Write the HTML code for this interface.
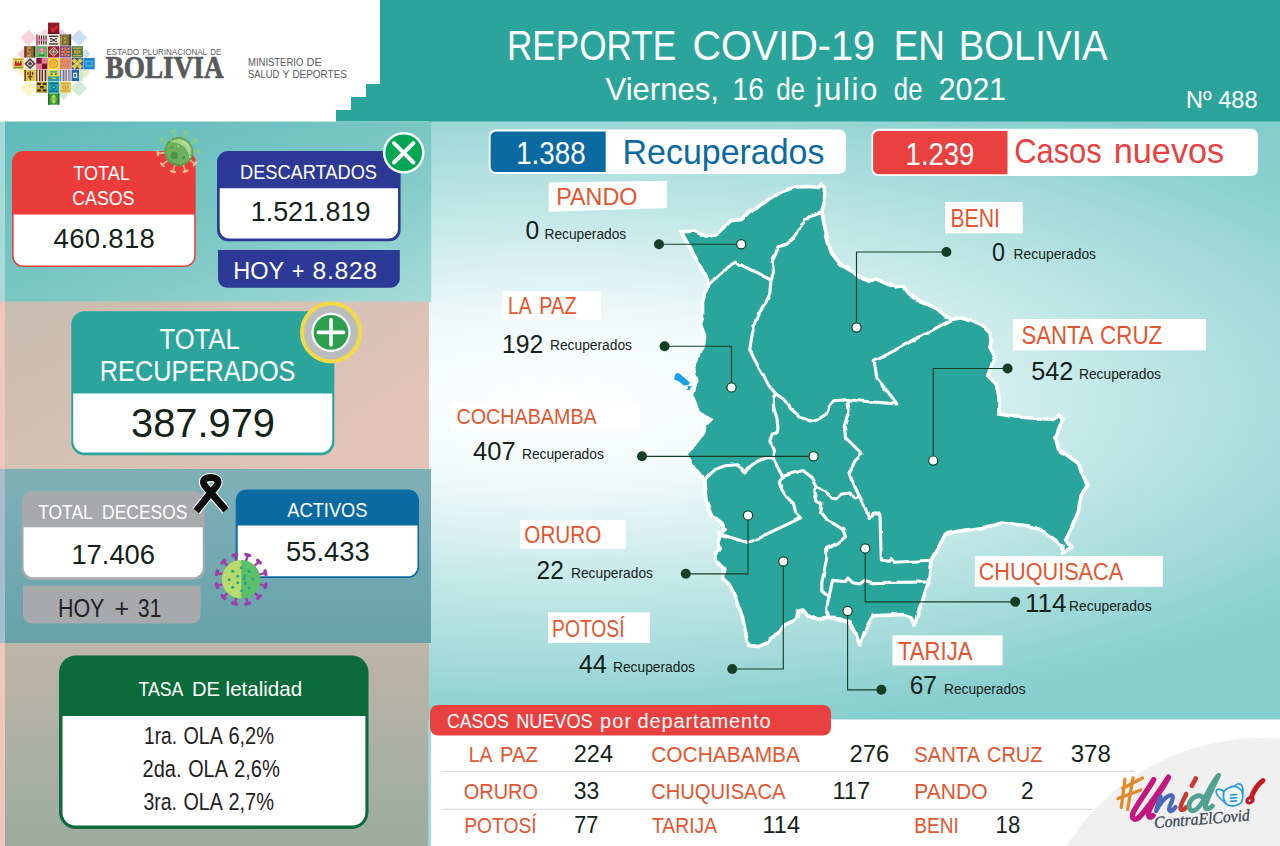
<!DOCTYPE html>
<html lang="es"><head><meta charset="utf-8"><title>Reporte COVID-19 en Bolivia</title>
<style>
html,body{margin:0;padding:0;background:#ffffff;}
body{width:1280px;height:846px;overflow:hidden;font-family:"Liberation Sans",sans-serif;}
svg{display:block;}
text{white-space:pre;}
</style></head><body>
<svg width="1280" height="846" viewBox="0 0 1280 846">
<defs>
<radialGradient id="bgR" gradientUnits="userSpaceOnUse" cx="560" cy="400" r="100" gradientTransform="translate(560 400) scale(10 3.45) translate(-560 -400)">
<stop offset="0" stop-color="#ffffff"/><stop offset="0.25" stop-color="#f0f9f9"/><stop offset="0.55" stop-color="#c2e7e7"/><stop offset="0.75" stop-color="#a6dbdb"/><stop offset="0.9" stop-color="#8fd1d1"/><stop offset="1" stop-color="#86cdce"/>
</radialGradient>
<linearGradient id="p1" x1="0" y1="0" x2="1" y2="1"><stop offset="0" stop-color="#5ebbb9"/><stop offset="0.6" stop-color="#7fc9c6"/><stop offset="1" stop-color="#a6dcd8"/></linearGradient>
<linearGradient id="p2" x1="0" y1="0" x2="1" y2="0.6"><stop offset="0" stop-color="#c8bcb0"/><stop offset="1" stop-color="#e3c4b8"/></linearGradient>
<linearGradient id="p3" x1="0" y1="0" x2="0" y2="1"><stop offset="0" stop-color="#7fb0b8"/><stop offset="1" stop-color="#67a2ab"/></linearGradient>
<linearGradient id="p4" x1="0" y1="0" x2="0" y2="1"><stop offset="0" stop-color="#bdb5a8"/><stop offset="1" stop-color="#9dab9f"/></linearGradient>
<filter id="rough" x="-2%" y="-2%" width="104%" height="104%"><feTurbulence type="fractalNoise" baseFrequency="0.09" numOctaves="1" seed="7" result="n"/><feDisplacementMap in="SourceGraphic" in2="n" scale="3.6" xChannelSelector="R" yChannelSelector="G"/></filter>
</defs>
<rect x="0" y="0" width="1280" height="846" fill="#ffffff"/>
<rect x="428" y="121" width="852" height="599" fill="url(#bgR)"/>
<path d="M380 0H1280V121.5H336V110H351V97H366V84H380Z" fill="#2ba59b"/>
<rect x="0" y="121.5" width="5" height="180.5" fill="#a9d9d6"/>
<rect x="0" y="301.5" width="5" height="167.5" fill="#efc5bc"/>
<rect x="0" y="469" width="5" height="174" fill="#a9bccb"/>
<rect x="0" y="643" width="5" height="203" fill="#efc5bc"/>
<rect x="5" y="121.5" width="426.2" height="180.5" fill="url(#p1)"/>
<rect x="5" y="301.5" width="424" height="167.5" fill="url(#p2)"/>
<rect x="5" y="469" width="426" height="174" fill="url(#p3)"/>
<rect x="5" y="643" width="424" height="203" fill="url(#p4)"/>
<rect x="431" y="719.5" width="849" height="127" fill="#ffffff"/>
<rect x="428" y="719.5" width="3" height="127" fill="#9fd8d8"/>
<polygon points="28.50,29.50 36.70,37.70 28.50,45.90 20.30,37.70" fill="#f6d3d8"/>
<polygon points="79.00,29.50 87.20,37.70 79.00,45.90 70.80,37.70" fill="#cbdff4"/>
<polygon points="28.50,80.00 36.70,88.20 28.50,96.40 20.30,88.20" fill="#fcf4c4"/>
<polygon points="79.00,80.00 87.20,88.20 79.00,96.40 70.80,88.20" fill="#d2ead8"/>
<polygon points="44.50,29.00 49.50,34.00 44.50,39.00 39.50,34.00" fill="#f3d4e0"/>
<polygon points="61.50,29.00 66.50,34.00 61.50,39.00 56.50,34.00" fill="#dcd6ee"/>
<polygon points="22.50,49.00 27.50,54.00 22.50,59.00 17.50,54.00" fill="#f6d3d8"/>
<polygon points="85.50,49.00 90.50,54.00 85.50,59.00 80.50,54.00" fill="#cbdff4"/>
<polygon points="84.50,67.00 90.00,72.50 84.50,78.00 79.00,72.50" fill="#e4efc6"/>
<polygon points="63.50,90.00 68.50,95.00 63.50,100.00 58.50,95.00" fill="#d2ead8"/>
<polygon points="22.00,67.00 27.00,72.00 22.00,77.00 17.00,72.00" fill="#fcf4c4"/>
<rect x="48.00" y="22.60" width="11.30" height="11.30" fill="#8c1c24"/>
<path d="M50.5 31.1l1.5-4 2 1.500 2.500-3.500 1.500 1-1 3-2 0.500-1 3.500z" fill="#e0222e"/>
<rect x="48.00" y="32.60" width="11.30" height="1.30" fill="#5a1218"/>
<rect x="36.20" y="34.40" width="11.30" height="11.30" fill="#f3e9e2"/>
<rect x="36.20" y="34.40" width="1.60" height="11.30" fill="#d0408a"/>
<rect x="38.60" y="35.60" width="1.20" height="3.60" fill="#4a2a22"/>
<rect x="38.60" y="40.70" width="1.20" height="3.80" fill="#4a2a22"/>
<rect x="40.90" y="35.60" width="1.20" height="3.60" fill="#4a2a22"/>
<rect x="40.90" y="40.70" width="1.20" height="3.80" fill="#4a2a22"/>
<rect x="43.20" y="35.60" width="1.20" height="3.60" fill="#4a2a22"/>
<rect x="43.20" y="40.70" width="1.20" height="3.80" fill="#4a2a22"/>
<rect x="45.50" y="35.60" width="1.20" height="3.60" fill="#4a2a22"/>
<rect x="45.50" y="40.70" width="1.20" height="3.80" fill="#4a2a22"/>
<rect x="37.80" y="39.40" width="9.70" height="1.00" fill="#d0408a"/>
<rect x="48.00" y="34.40" width="11.30" height="11.30" fill="#f1ece4"/>
<rect x="49.00" y="35.60" width="9.30" height="1.40" fill="#4a3a36"/>
<rect x="49.00" y="43.20" width="9.30" height="1.40" fill="#4a3a36"/>
<rect x="50.00" y="38.00" width="2.40" height="1.40" fill="#4a3a36"/>
<rect x="54.80" y="38.00" width="2.40" height="1.40" fill="#4a3a36"/>
<rect x="52.30" y="39.00" width="2.60" height="2.20" fill="#4a3a36"/>
<rect x="50.00" y="40.80" width="2.40" height="1.20" fill="#4a3a36"/>
<rect x="54.80" y="40.80" width="2.40" height="1.20" fill="#4a3a36"/>
<rect x="59.80" y="34.40" width="11.30" height="11.30" fill="#8a6a3a"/>
<rect x="69.30" y="34.40" width="1.80" height="11.30" fill="#4a2a1c"/>
<rect x="63.20" y="35.90" width="3.60" height="8.30" fill="#5a8a3a"/>
<rect x="64.10" y="37.40" width="1.80" height="2.00" fill="#e8963a"/>
<rect x="64.10" y="40.80" width="1.80" height="2.00" fill="#e8963a"/>
<rect x="60.60" y="35.40" width="1.00" height="9.30" fill="#c89a4a"/>
<rect x="24.40" y="46.20" width="11.30" height="11.30" fill="#8a5a3a"/>
<rect x="27.40" y="47.20" width="3.20" height="9.30" fill="#e8963a"/>
<rect x="28.40" y="48.80" width="2.40" height="2.20" fill="#8a5a3a"/>
<rect x="27.40" y="52.20" width="2.20" height="2.20" fill="#8a5a3a"/>
<rect x="31.60" y="46.20" width="1.30" height="11.30" fill="#5a8a3a"/>
<rect x="33.60" y="46.20" width="1.30" height="11.30" fill="#3a2a1c"/>
<rect x="24.40" y="46.20" width="1.40" height="11.30" fill="#5a3a2a"/>
<rect x="36.20" y="46.20" width="11.30" height="11.30" fill="#4fa65a"/>
<rect x="37.20" y="47.20" width="9.30" height="9.30" fill="#6ab86a"/>
<rect x="39.50" y="47.80" width="4.80" height="4.20" fill="#e85a9a"/>
<rect x="40.60" y="48.70" width="2.60" height="2.00" fill="#f5b8d0"/>
<rect x="41.20" y="52.00" width="1.30" height="3.80" fill="#e8e0b0"/>
<rect x="39.20" y="54.40" width="5.40" height="1.40" fill="#2a7a3a"/>
<rect x="48.00" y="46.20" width="11.30" height="11.30" fill="#a0202c"/>
<polygon points="53.65,46.85 58.65,51.85 53.65,56.85 48.65,51.85" fill="#e8d8b0"/>
<polygon points="53.65,48.05 57.45,51.85 53.65,55.65 49.85,51.85" fill="#c8323c"/>
<polygon points="53.65,49.35 56.15,51.85 53.65,54.35 51.15,51.85" fill="#3aa8a0"/>
<polygon points="53.65,50.65 54.85,51.85 53.65,53.05 52.45,51.85" fill="#e8d8b0"/>
<rect x="59.80" y="46.20" width="11.30" height="11.30" fill="#6a4a8a"/>
<rect x="64.40" y="47.40" width="2.20" height="9.00" fill="#e87a3a"/>
<rect x="61.00" y="50.80" width="9.00" height="2.20" fill="#e87a3a"/>
<rect x="64.70" y="51.10" width="1.60" height="1.60" fill="#6a4a8a"/>
<rect x="61.40" y="47.80" width="1.90" height="1.90" fill="#e8a06a"/>
<rect x="67.60" y="47.80" width="1.90" height="1.90" fill="#e8a06a"/>
<rect x="61.40" y="54.00" width="1.90" height="1.90" fill="#e8a06a"/>
<rect x="67.60" y="54.00" width="1.90" height="1.90" fill="#e8a06a"/>
<rect x="71.60" y="46.20" width="11.30" height="11.30" fill="#3a7a3a"/>
<rect x="72.80" y="47.40" width="9.00" height="1.50" fill="#c8a05a"/>
<rect x="72.80" y="54.80" width="9.00" height="1.50" fill="#c8a05a"/>
<rect x="74.00" y="50.00" width="2.20" height="3.60" fill="#e8963a"/>
<rect x="78.40" y="50.00" width="2.20" height="3.60" fill="#e8963a"/>
<rect x="76.60" y="49.20" width="1.30" height="5.20" fill="#c8a05a"/>
<rect x="12.60" y="58.00" width="11.30" height="11.30" fill="#e8d464"/>
<rect x="14.60" y="63.20" width="7.20" height="2.60" fill="#c8202c"/>
<rect x="15.00" y="61.00" width="1.50" height="2.60" fill="#c8202c"/>
<rect x="20.00" y="61.00" width="1.50" height="2.60" fill="#c8202c"/>
<rect x="17.40" y="61.60" width="1.60" height="1.80" fill="#3a8a3a"/>
<rect x="13.80" y="66.80" width="9.00" height="1.30" fill="#6a8a3a"/>
<rect x="13.80" y="59.00" width="9.00" height="1.00" fill="#b8a03a"/>
<rect x="24.40" y="58.00" width="11.30" height="11.30" fill="#efe6da"/>
<polygon points="30.05,58.05 35.65,63.65 30.05,69.25 24.45,63.65" fill="#4a3a3a"/>
<polygon points="30.05,60.25 33.45,63.65 30.05,67.05 26.65,63.65" fill="#efe6da"/>
<polygon points="30.05,61.45 32.25,63.65 30.05,65.85 27.85,63.65" fill="#4a3a3a"/>
<rect x="36.20" y="58.00" width="11.30" height="11.30" fill="#8a1c3c"/>
<rect x="41.85" y="58.00" width="5.65" height="5.65" fill="#e87a94"/>
<rect x="36.20" y="63.65" width="5.65" height="5.65" fill="#e87a94"/>
<rect x="37.60" y="59.40" width="2.60" height="2.60" fill="#5a1228"/>
<rect x="43.40" y="65.20" width="2.60" height="2.60" fill="#5a1228"/>
<rect x="48.00" y="58.00" width="11.30" height="11.30" fill="#f2d23e"/>
<circle cx="53.65" cy="63.65" r="3.9" fill="none" stroke="#e8922a" stroke-width="1.3"/><circle cx="53.65" cy="63.65" r="1.5" fill="none" stroke="#e8922a" stroke-width="1"/>
<rect x="59.80" y="58.00" width="11.30" height="11.30" fill="#e08a6a"/>
<rect x="60.80" y="61.40" width="9.30" height="0.80" fill="#d07858"/>
<rect x="60.80" y="65.00" width="9.30" height="0.80" fill="#d07858"/>
<rect x="71.60" y="58.00" width="11.30" height="11.30" fill="#5a4a8a"/>
<polygon points="74.45,58.15 77.15,60.85 74.45,63.55 71.75,60.85" fill="#d8d444"/>
<polygon points="80.05,58.15 82.75,60.85 80.05,63.55 77.35,60.85" fill="#d8d444"/>
<polygon points="77.25,60.95 79.95,63.65 77.25,66.35 74.55,63.65" fill="#d8d444"/>
<polygon points="74.45,63.75 77.15,66.45 74.45,69.15 71.75,66.45" fill="#d8d444"/>
<polygon points="80.05,63.75 82.75,66.45 80.05,69.15 77.35,66.45" fill="#d8d444"/>
<rect x="83.40" y="58.00" width="11.30" height="11.30" fill="#1e86cc"/>
<rect x="85.20" y="60.60" width="7.70" height="6.10" fill="#3ab0e4"/>
<rect x="86.80" y="62.30" width="4.50" height="2.70" fill="#1e86cc"/>
<rect x="24.40" y="69.80" width="11.30" height="11.30" fill="#dcc444"/>
<rect x="24.40" y="69.80" width="1.50" height="11.30" fill="#6a3a1c"/>
<rect x="29.60" y="71.30" width="1.40" height="8.60" fill="#6a3a1c"/>
<rect x="27.40" y="72.00" width="1.20" height="3.00" fill="#6a3a1c"/>
<rect x="32.00" y="72.00" width="1.20" height="3.00" fill="#6a3a1c"/>
<rect x="28.00" y="76.20" width="4.60" height="1.20" fill="#6a3a1c"/>
<rect x="36.20" y="69.80" width="1.46" height="11.30" fill="#5a2a1c"/>
<rect x="37.61" y="69.80" width="1.46" height="11.30" fill="#efe0d0"/>
<rect x="39.03" y="69.80" width="1.46" height="11.30" fill="#5a2a1c"/>
<rect x="40.44" y="69.80" width="1.46" height="11.30" fill="#c8a08a"/>
<rect x="41.85" y="69.80" width="1.46" height="11.30" fill="#5a2a1c"/>
<rect x="43.26" y="69.80" width="1.46" height="11.30" fill="#efe0d0"/>
<rect x="44.68" y="69.80" width="1.46" height="11.30" fill="#5a2a1c"/>
<rect x="46.09" y="69.80" width="1.46" height="11.30" fill="#c8a08a"/>
<rect x="48.00" y="69.80" width="11.30" height="11.30" fill="#e8d444"/>
<rect x="48.00" y="76.40" width="11.30" height="4.70" fill="#2aa0a0"/>
<rect x="50.00" y="71.20" width="7.30" height="1.30" fill="#2aa0a0"/>
<rect x="50.60" y="73.40" width="1.80" height="1.50" fill="#2a6a6a"/>
<rect x="54.90" y="73.40" width="1.80" height="1.50" fill="#2a6a6a"/>
<rect x="51.60" y="77.60" width="4.20" height="1.20" fill="#e8d444"/>
<rect x="59.80" y="69.80" width="1.46" height="11.30" fill="#5a7ab8"/>
<rect x="61.21" y="69.80" width="1.46" height="11.30" fill="#efd8c8"/>
<rect x="62.63" y="69.80" width="1.46" height="11.30" fill="#5a7ab8"/>
<rect x="64.04" y="69.80" width="1.46" height="11.30" fill="#e8a08a"/>
<rect x="65.45" y="69.80" width="1.46" height="11.30" fill="#5a7ab8"/>
<rect x="66.86" y="69.80" width="1.46" height="11.30" fill="#efd8c8"/>
<rect x="68.28" y="69.80" width="1.46" height="11.30" fill="#5a7ab8"/>
<rect x="69.69" y="69.80" width="1.46" height="11.30" fill="#e8a08a"/>
<rect x="71.60" y="69.80" width="7.40" height="11.30" fill="#1e6ab0"/>
<rect x="73.20" y="72.80" width="4.00" height="5.20" fill="#e8f0f8"/>
<rect x="74.20" y="74.00" width="2.00" height="2.80" fill="#1e6ab0"/>
<rect x="79.00" y="69.80" width="3.90" height="11.30" fill="#d4e8c0"/>
<rect x="36.20" y="81.60" width="11.30" height="11.30" fill="#c0ac3c"/>
<rect x="37.20" y="82.80" width="3.60" height="2.20" fill="#4a2a1c"/>
<rect x="42.80" y="82.80" width="3.60" height="2.20" fill="#4a2a1c"/>
<rect x="40.00" y="86.00" width="3.60" height="2.40" fill="#4a2a1c"/>
<rect x="37.20" y="89.40" width="3.60" height="2.20" fill="#4a2a1c"/>
<rect x="42.80" y="89.40" width="3.60" height="2.20" fill="#4a2a1c"/>
<rect x="48.00" y="81.60" width="11.30" height="11.30" fill="#1ea4b8"/>
<rect x="49.20" y="82.80" width="9.00" height="1.20" fill="#0e6a80"/>
<rect x="49.20" y="90.50" width="9.00" height="1.20" fill="#0e6a80"/>
<polygon points="53.65,84.35 56.55,87.25 53.65,90.15 50.75,87.25" fill="#0e6a80"/>
<polygon points="53.65,85.85 55.05,87.25 53.65,88.65 52.25,87.25" fill="#5ad0e0"/>
<rect x="59.80" y="81.60" width="11.30" height="11.30" fill="#ecd058"/>
<rect x="61.00" y="83.00" width="9.00" height="1.10" fill="#c89a4a"/>
<rect x="61.00" y="90.40" width="9.00" height="1.10" fill="#c89a4a"/>
<rect x="62.00" y="85.20" width="2.60" height="4.00" fill="#d8aa5a"/>
<rect x="66.30" y="85.20" width="2.60" height="4.00" fill="#d8aa5a"/>
<rect x="64.90" y="84.60" width="1.10" height="5.20" fill="#c89a4a"/>
<rect x="48.00" y="93.40" width="11.30" height="11.30" fill="#3a9a3a"/>
<rect x="48.00" y="93.40" width="1.30" height="11.30" fill="#1e6a2a"/>
<rect x="58.00" y="93.40" width="1.30" height="11.30" fill="#1e6a2a"/>
<polygon points="53.65,94.50 55.95,96.80 53.65,99.10 51.35,96.80" fill="#b0dc54"/>
<polygon points="53.65,99.10 55.95,101.40 53.65,103.70 51.35,101.40" fill="#b0dc54"/>
<rect x="50.40" y="98.60" width="6.50" height="1.00" fill="#b0dc54"/>
<text x="106.4" y="55.2" font-size="8.6" fill="#58595b" font-family="Liberation Sans" font-weight="normal" text-anchor="start" textLength="32.8" lengthAdjust="spacingAndGlyphs">ESTADO</text>
<text x="142.5" y="55.2" font-size="8.6" fill="#58595b" font-family="Liberation Sans" font-weight="normal" text-anchor="start" textLength="64.5" lengthAdjust="spacingAndGlyphs">PLURINACIONAL</text>
<text x="210.3" y="55.2" font-size="8.6" fill="#58595b" font-family="Liberation Sans" font-weight="normal" text-anchor="start" textLength="11.0" lengthAdjust="spacingAndGlyphs">DE</text>
<text x="105.6" y="78.1" font-size="30.6" fill="#58595b" font-family="Liberation Serif" font-weight="bold" text-anchor="start" textLength="118.0" lengthAdjust="spacingAndGlyphs" stroke="#58595b" stroke-width="0.7">BOLIVIA</text>
<text x="248.0" y="66.3" font-size="11.2" fill="#58595b" font-family="Liberation Sans" font-weight="normal" text-anchor="start" textLength="55.3" lengthAdjust="spacingAndGlyphs">MINISTERIO</text>
<text x="306.6" y="66.3" font-size="11.2" fill="#58595b" font-family="Liberation Sans" font-weight="normal" text-anchor="start" textLength="15.3" lengthAdjust="spacingAndGlyphs">DE</text>
<text x="248.0" y="78.2" font-size="11.2" fill="#58595b" font-family="Liberation Sans" font-weight="normal" text-anchor="start" textLength="31.2" lengthAdjust="spacingAndGlyphs">SALUD</text>
<text x="282.5" y="78.2" font-size="11.2" fill="#58595b" font-family="Liberation Sans" font-weight="normal" text-anchor="start" textLength="7.0" lengthAdjust="spacingAndGlyphs">Y</text>
<text x="292.4" y="78.2" font-size="11.2" fill="#58595b" font-family="Liberation Sans" font-weight="normal" text-anchor="start" textLength="54.6" lengthAdjust="spacingAndGlyphs">DEPORTES</text>
<text x="507.0" y="60.0" font-size="41.8" fill="#ffffff" font-family="Liberation Sans" font-weight="normal" text-anchor="start" textLength="169.2" lengthAdjust="spacingAndGlyphs">REPORTE</text>
<text x="692.5" y="60.0" font-size="41.8" fill="#ffffff" font-family="Liberation Sans" font-weight="normal" text-anchor="start" textLength="182.5" lengthAdjust="spacingAndGlyphs">COVID-19</text>
<text x="893.8" y="60.0" font-size="41.8" fill="#ffffff" font-family="Liberation Sans" font-weight="normal" text-anchor="start" textLength="51.2" lengthAdjust="spacingAndGlyphs">EN</text>
<text x="958.8" y="60.0" font-size="41.8" fill="#ffffff" font-family="Liberation Sans" font-weight="normal" text-anchor="start" textLength="148.7" lengthAdjust="spacingAndGlyphs">BOLIVIA</text>
<text x="605.5" y="99.5" font-size="31.3" fill="#ffffff" font-family="Liberation Sans" font-weight="normal" text-anchor="start" textLength="113.3" lengthAdjust="spacingAndGlyphs">Viernes,</text>
<text x="732.5" y="99.5" font-size="31.3" fill="#ffffff" font-family="Liberation Sans" font-weight="normal" text-anchor="start" textLength="31.3" lengthAdjust="spacingAndGlyphs">16</text>
<text x="776.2" y="99.5" font-size="31.3" fill="#ffffff" font-family="Liberation Sans" font-weight="normal" text-anchor="start" textLength="28.8" lengthAdjust="spacingAndGlyphs">de</text>
<text x="815.5" y="99.5" font-size="31.3" fill="#ffffff" font-family="Liberation Sans" font-weight="normal" text-anchor="start" textLength="62.0" lengthAdjust="spacing">julio</text>
<text x="893.8" y="99.5" font-size="31.3" fill="#ffffff" font-family="Liberation Sans" font-weight="normal" text-anchor="start" textLength="28.7" lengthAdjust="spacingAndGlyphs">de</text>
<text x="938.8" y="99.5" font-size="31.3" fill="#ffffff" font-family="Liberation Sans" font-weight="normal" text-anchor="start" textLength="67.2" lengthAdjust="spacingAndGlyphs">2021</text>
<text x="1186.0" y="108.2" font-size="24.0" fill="#ffffff" font-family="Liberation Sans" font-weight="normal" text-anchor="start" textLength="71.5" lengthAdjust="spacingAndGlyphs">Nº 488</text>
<rect x="488.8" y="129.4" width="357.2" height="44.6" rx="7" fill="#ffffff"/>
<path d="M496 131.5H605.7V172H496a5.400 5.400 0 0 1-5.400-5.400V136.900a5.400 5.400 0 0 1 5.400-5.400Z" fill="#0b6aa2"/>
<text x="516.2" y="163.8" font-size="31.5" fill="#ffffff" font-family="Liberation Sans" font-weight="normal" text-anchor="start" textLength="69.4" lengthAdjust="spacingAndGlyphs">1.388</text>
<text x="622.5" y="163.7" font-size="35.0" fill="#0b6aa2" font-family="Liberation Sans" font-weight="normal" text-anchor="start" textLength="202.0" lengthAdjust="spacingAndGlyphs">Recuperados</text>
<rect x="871.5" y="128.8" width="386.6" height="47.2" rx="7" fill="#ffffff"/>
<path d="M878.6 131H1007.5V174.2H878.6a5.500 5.500 0 0 1-5.500-5.500V136.500a5.500 5.500 0 0 1 5.500-5.500Z" fill="#e8413f"/>
<text x="905.6" y="165.0" font-size="31.0" fill="#ffffff" font-family="Liberation Sans" font-weight="normal" text-anchor="start" textLength="68.8" lengthAdjust="spacingAndGlyphs">1.239</text>
<text x="1014.2" y="163.4" font-size="35.0" fill="#e8413f" font-family="Liberation Sans" font-weight="normal" text-anchor="start" textLength="87.5" lengthAdjust="spacingAndGlyphs">Casos</text>
<text x="1113.8" y="163.4" font-size="35.0" fill="#e8413f" font-family="Liberation Sans" font-weight="normal" text-anchor="start" textLength="110.4" lengthAdjust="spacingAndGlyphs">nuevos</text>
<g filter="url(#rough)">
<polygon points="681.2,231.9 694.2,231.0 706.0,236.2 715.5,235.0 726.0,225.5 730.8,220.8 741.5,219.6 748.5,212.5 758.0,207.8 769.8,198.4 781.6,191.3 795.8,187.0 810.0,186.5 818.3,187.7 821.8,184.2 824.2,187.7 824.7,200.7 821.8,211.4 824.2,224.4 827.8,240.9 831.3,252.7 840.8,264.6 852.6,271.7 859.7,277.6 869.5,281.0 876.5,279.2 886.0,283.5 895.5,287.0 902.6,285.8 907.3,293.0 916.7,300.0 928.6,304.8 938.0,309.5 945.0,316.6 952.2,319.4 961.7,317.8 971.0,321.3 983.0,326.0 990.0,333.0 991.2,340.2 990.0,347.3 994.8,356.8 993.3,361.3 987.7,375.5 996.2,384.0 999.0,398.2 999.0,413.8 1013.2,416.7 1053.0,419.5 1058.6,415.2 1062.8,419.5 1055.7,438.0 1058.6,449.3 1067.0,455.0 1078.4,463.5 1084.0,477.7 1087.0,486.2 1081.3,494.7 1078.4,511.7 1070.0,531.6 1065.7,540.0 1071.3,548.6 1062.8,552.8 1062.8,545.7 1041.6,530.0 1030.2,525.9 1001.8,523.0 984.8,527.3 956.5,531.6 945.2,534.2 939.3,546.0 931.0,560.2 928.7,581.5 922.7,600.4 918.0,613.4 914.5,626.4 911.0,617.0 903.8,614.6 873.0,615.7 868.4,624.0 862.5,638.2 860.0,646.0 856.3,635.0 850.0,623.5 840.5,619.0 829.0,618.2 817.0,619.4 807.7,615.8 803.0,610.0 798.2,611.0 797.0,615.8 793.5,620.6 784.0,625.3 779.3,632.4 771.0,637.0 767.5,643.0 758.0,646.6 748.6,645.4 746.2,634.8 742.6,618.2 736.7,599.3 729.6,585.0 722.5,578.0 723.7,568.6 716.6,561.5 715.5,552.0 719.0,549.6 717.8,542.6 720.0,534.3 725.0,529.6 722.5,523.6 710.7,514.2 706.0,500.0 703.6,480.0 697.7,473.0 690.6,463.5 686.0,454.0 694.2,444.6 703.6,432.7 704.8,425.7 710.7,419.7 705.0,416.5 698.3,412.5 694.8,402.5 691.2,394.0 693.3,388.4 697.6,381.3 693.5,373.5 692.5,366.0 696.5,359.5 700.0,350.0 702.5,345.0 703.6,335.5 700.0,326.0 702.5,316.6 702.5,302.4 704.8,293.0 709.6,283.5" fill="#2ba59b" stroke="#ffffff" stroke-width="3.6" stroke-linejoin="miter" stroke-miterlimit="3"/>
<polyline points="709.6,283.5 720.0,274.0 727.3,267.0 735.6,262.2 771.0,280.0" fill="none" stroke="#ffffff" stroke-width="3.1" stroke-linejoin="round" stroke-linecap="round"/>
<polyline points="821.8,211.4 812.4,215.0 805.3,220.8 798.2,229.0 793.5,238.6 786.4,244.5 778.0,246.8 775.7,254.0 772.2,261.0 773.4,271.7 771.0,280.0" fill="none" stroke="#ffffff" stroke-width="3.1" stroke-linejoin="round" stroke-linecap="round"/>
<polyline points="771.0,280.0 769.8,293.0 765.0,304.8 758.0,314.2 754.5,323.7 752.0,335.5 749.7,349.7 755.7,361.8 762.7,373.6 768.7,385.5 775.7,393.7" fill="none" stroke="#ffffff" stroke-width="3.1" stroke-linejoin="round" stroke-linecap="round"/>
<polyline points="775.7,393.7 784.0,399.6 791.0,409.0 800.6,417.4 810.0,421.0 819.5,418.6 826.6,413.8 829.0,406.7 833.7,400.8 847.8,399.6" fill="none" stroke="#ffffff" stroke-width="3.1" stroke-linejoin="round" stroke-linecap="round"/>
<polyline points="847.8,399.6 860.0,401.0 896.9,403.9 888.4,392.5 877.0,378.4 874.2,361.3 952.2,319.4" fill="none" stroke="#ffffff" stroke-width="3.1" stroke-linejoin="round" stroke-linecap="round"/>
<polyline points="775.7,393.7 773.4,397.3 773.4,406.7 777.0,418.6 778.0,428.0 777.0,432.7 772.2,434.0 769.8,441.0 773.4,449.3 773.0,458.0" fill="none" stroke="#ffffff" stroke-width="3.1" stroke-linejoin="round" stroke-linecap="round"/>
<polyline points="703.6,480.0 715.5,469.4 725.0,465.8 736.7,464.7 742.6,469.4 745.0,473.0 747.4,468.2 758.0,461.0 767.5,457.6 773.0,458.0" fill="none" stroke="#ffffff" stroke-width="3.1" stroke-linejoin="round" stroke-linecap="round"/>
<polyline points="773.0,458.0 779.3,470.6 782.8,476.5" fill="none" stroke="#ffffff" stroke-width="3.1" stroke-linejoin="round" stroke-linecap="round"/>
<polyline points="782.8,476.5 793.5,473.0 803.0,470.6 812.4,477.7 817.0,487.0" fill="none" stroke="#ffffff" stroke-width="3.1" stroke-linejoin="round" stroke-linecap="round"/>
<polyline points="817.0,487.0 824.2,491.8 831.3,497.8 836.0,499.0 840.8,494.2 849.0,493.0 855.0,497.8 859.7,496.6" fill="none" stroke="#ffffff" stroke-width="3.1" stroke-linejoin="round" stroke-linecap="round"/>
<polyline points="847.8,399.6 849.0,411.5 844.3,425.7 845.5,437.5 855.0,447.0 862.0,454.0 855.0,461.0 849.0,473.0 855.0,487.0 859.7,496.6" fill="none" stroke="#ffffff" stroke-width="3.1" stroke-linejoin="round" stroke-linecap="round"/>
<polyline points="782.8,476.5 779.3,482.4 781.7,489.5 786.4,496.6 793.5,503.7 795.8,513.0 800.6,517.8 793.5,521.4 748.6,542.7 720.0,534.3" fill="none" stroke="#ffffff" stroke-width="3.1" stroke-linejoin="round" stroke-linecap="round"/>
<polyline points="817.0,487.0 814.8,491.8 817.0,501.3 821.8,503.7 820.7,513.0 826.6,520.2 836.0,525.0 843.0,529.7 845.5,536.8 838.4,542.6 826.6,548.5 826.6,559.0 824.2,571.0 821.8,582.7 821.8,591.0 829.0,597.0" fill="none" stroke="#ffffff" stroke-width="3.1" stroke-linejoin="round" stroke-linecap="round"/>
<polyline points="829.0,597.0 826.6,608.7 829.0,618.2" fill="none" stroke="#ffffff" stroke-width="3.1" stroke-linejoin="round" stroke-linecap="round"/>
<polyline points="829.0,597.0 832.5,580.4 845.5,581.6 847.8,578.0 852.6,582.7 859.7,584.0 864.4,580.4 869.0,581.6 873.0,582.6 928.7,582.0" fill="none" stroke="#ffffff" stroke-width="3.1" stroke-linejoin="round" stroke-linecap="round"/>
<polyline points="859.7,496.6 864.4,506.0 869.0,517.8 872.7,513.0 879.9,513.0 881.3,560.0 888.4,561.3 891.2,558.5 894.0,562.2 931.0,560.2" fill="none" stroke="#ffffff" stroke-width="3.1" stroke-linejoin="round" stroke-linecap="round"/>
</g>
<polygon points="675.2,374.5 677,373 679.5,373.5 689.8,382.5 688.5,385 685.5,385.5 683.5,385.2 681,383 677.5,380.8 674,379.5 674.5,377" fill="#18a0e8"/>
<polygon points="687.5,386 692.6,386.3 690,388 689.5,390.5 686.5,389.8 688,388" fill="#18a0e8"/>
<path d="M659 244.2H741.2" fill="none" stroke="#173f28" stroke-width="1.15"/>
<circle cx="659" cy="244.2" r="5" fill="#173f28"/>
<circle cx="741.2" cy="244.2" r="4.6" fill="#ffffff" stroke="#173f28" stroke-width="1.2"/>
<path d="M946.4 252H856.5V327.5" fill="none" stroke="#173f28" stroke-width="1.15"/>
<circle cx="946.4" cy="252" r="5" fill="#173f28"/>
<circle cx="856.5" cy="327.5" r="4.6" fill="#ffffff" stroke="#173f28" stroke-width="1.2"/>
<path d="M664.6 346.2H731.5V387.4" fill="none" stroke="#173f28" stroke-width="1.15"/>
<circle cx="664.6" cy="346.2" r="5" fill="#173f28"/>
<circle cx="731.5" cy="387.4" r="4.6" fill="#ffffff" stroke="#173f28" stroke-width="1.2"/>
<path d="M1007.6 368.5H933.2V460.6" fill="none" stroke="#173f28" stroke-width="1.15"/>
<circle cx="1007.6" cy="368.5" r="5" fill="#173f28"/>
<circle cx="933.2" cy="460.6" r="4.6" fill="#ffffff" stroke="#173f28" stroke-width="1.2"/>
<path d="M642 456.3H813.6" fill="none" stroke="#173f28" stroke-width="1.15"/>
<circle cx="642" cy="456.3" r="5" fill="#173f28"/>
<circle cx="813.6" cy="456.3" r="4.6" fill="#ffffff" stroke="#173f28" stroke-width="1.2"/>
<path d="M685.8 573.8H748V515.4" fill="none" stroke="#173f28" stroke-width="1.15"/>
<circle cx="685.8" cy="573.8" r="5" fill="#173f28"/>
<circle cx="748" cy="515.4" r="4.6" fill="#ffffff" stroke="#173f28" stroke-width="1.2"/>
<path d="M732.2 669H783.3V561.5" fill="none" stroke="#173f28" stroke-width="1.15"/>
<circle cx="732.2" cy="669" r="5" fill="#173f28"/>
<circle cx="783.3" cy="561.5" r="4.6" fill="#ffffff" stroke="#173f28" stroke-width="1.2"/>
<path d="M1015.2 601.8H865.2V548.4" fill="none" stroke="#173f28" stroke-width="1.15"/>
<circle cx="1015.2" cy="601.8" r="5" fill="#173f28"/>
<circle cx="865.2" cy="548.4" r="4.6" fill="#ffffff" stroke="#173f28" stroke-width="1.2"/>
<path d="M881.4 689.8H847.6V611" fill="none" stroke="#173f28" stroke-width="1.15"/>
<circle cx="881.4" cy="689.8" r="5" fill="#173f28"/>
<circle cx="847.6" cy="611" r="4.6" fill="#ffffff" stroke="#173f28" stroke-width="1.2"/>
<polygon points="548.7,182.5 667,180.7 667,208 548.7,211.7" fill="#ffffff"/>
<text x="556.2" y="205.0" font-size="24.5" fill="#e2562f" font-family="Liberation Sans" font-weight="normal" text-anchor="start" textLength="81.3" lengthAdjust="spacingAndGlyphs">PANDO</text>
<text x="525.5" y="238.7" font-size="26.5" fill="#14231a" font-family="Liberation Sans" font-weight="normal" text-anchor="start" textLength="13.7" lengthAdjust="spacingAndGlyphs">0</text>
<text x="544.5" y="238.7" font-size="13.8" fill="#14231a" font-family="Liberation Sans" font-weight="normal" text-anchor="start" textLength="81.7" lengthAdjust="spacingAndGlyphs">Recuperados</text>
<rect x="945" y="202" width="77.7" height="31.3" fill="#ffffff"/>
<text x="950.4" y="226.8" font-size="25.5" fill="#e2562f" font-family="Liberation Sans" font-weight="normal" text-anchor="start" textLength="49.6" lengthAdjust="spacingAndGlyphs">BENI</text>
<text x="992.0" y="261.4" font-size="26.5" fill="#14231a" font-family="Liberation Sans" font-weight="normal" text-anchor="start" textLength="13.0" lengthAdjust="spacingAndGlyphs">0</text>
<text x="1013.6" y="258.8" font-size="13.8" fill="#14231a" font-family="Liberation Sans" font-weight="normal" text-anchor="start" textLength="82.4" lengthAdjust="spacing">Recuperados</text>
<rect x="502.2" y="291" width="99.0" height="28.7" fill="#ffffff"/>
<text x="508.0" y="313.8" font-size="24.0" fill="#e2562f" font-family="Liberation Sans" font-weight="normal" text-anchor="start"></text>
<text x="508.1" y="313.8" font-size="24.0" fill="#e2562f" font-family="Liberation Sans" font-weight="normal" text-anchor="start" textLength="23.6" lengthAdjust="spacingAndGlyphs">LA</text>
<text x="539.3" y="313.8" font-size="24.0" fill="#e2562f" font-family="Liberation Sans" font-weight="normal" text-anchor="start" textLength="37.3" lengthAdjust="spacingAndGlyphs">PAZ</text>
<text x="502.0" y="353.3" font-size="26.5" fill="#14231a" font-family="Liberation Sans" font-weight="normal" text-anchor="start" textLength="41.3" lengthAdjust="spacingAndGlyphs">192</text>
<text x="550.0" y="350.2" font-size="13.8" fill="#14231a" font-family="Liberation Sans" font-weight="normal" text-anchor="start" textLength="82.0" lengthAdjust="spacingAndGlyphs">Recuperados</text>
<rect x="1013" y="319" width="193.0" height="31.3" fill="#ffffff"/>
<text x="1021.4" y="343.8" font-size="25.5" fill="#e2562f" font-family="Liberation Sans" font-weight="normal" text-anchor="start"></text>
<text x="1021.4" y="343.8" font-size="25.5" fill="#e2562f" font-family="Liberation Sans" font-weight="normal" text-anchor="start" textLength="72.2" lengthAdjust="spacingAndGlyphs">SANTA</text>
<text x="1100.1" y="343.8" font-size="25.5" fill="#e2562f" font-family="Liberation Sans" font-weight="normal" text-anchor="start" textLength="62.2" lengthAdjust="spacingAndGlyphs">CRUZ</text>
<text x="1031.3" y="379.6" font-size="26.5" fill="#14231a" font-family="Liberation Sans" font-weight="normal" text-anchor="start" textLength="42.0" lengthAdjust="spacingAndGlyphs">542</text>
<text x="1079.0" y="378.9" font-size="13.8" fill="#14231a" font-family="Liberation Sans" font-weight="normal" text-anchor="start" textLength="82.0" lengthAdjust="spacingAndGlyphs">Recuperados</text>
<rect x="451" y="401.7" width="188.8" height="27.9" fill="#ffffff"/>
<text x="456.5" y="423.5" font-size="22.5" fill="#e2562f" font-family="Liberation Sans" font-weight="normal" text-anchor="start" textLength="140.2" lengthAdjust="spacingAndGlyphs">COCHABAMBA</text>
<text x="473.0" y="459.7" font-size="26.5" fill="#14231a" font-family="Liberation Sans" font-weight="normal" text-anchor="start" textLength="42.6" lengthAdjust="spacingAndGlyphs">407</text>
<text x="522.0" y="459.0" font-size="13.8" fill="#14231a" font-family="Liberation Sans" font-weight="normal" text-anchor="start" textLength="81.8" lengthAdjust="spacingAndGlyphs">Recuperados</text>
<rect x="520" y="520" width="105.8" height="29.0" fill="#ffffff"/>
<text x="524.3" y="542.5" font-size="24.5" fill="#e2562f" font-family="Liberation Sans" font-weight="normal" text-anchor="start" textLength="77.0" lengthAdjust="spacingAndGlyphs">ORURO</text>
<text x="536.6" y="578.7" font-size="26.5" fill="#14231a" font-family="Liberation Sans" font-weight="normal" text-anchor="start" textLength="27.2" lengthAdjust="spacingAndGlyphs">22</text>
<text x="571.0" y="578.0" font-size="13.8" fill="#14231a" font-family="Liberation Sans" font-weight="normal" text-anchor="start" textLength="82.0" lengthAdjust="spacingAndGlyphs">Recuperados</text>
<rect x="974.8" y="556" width="188.0" height="30.8" fill="#ffffff"/>
<text x="978.7" y="579.5" font-size="24.5" fill="#e2562f" font-family="Liberation Sans" font-weight="normal" text-anchor="start" textLength="144.5" lengthAdjust="spacingAndGlyphs">CHUQUISACA</text>
<text x="1025.0" y="612.3" font-size="26.5" fill="#14231a" font-family="Liberation Sans" font-weight="normal" text-anchor="start" textLength="41.6" lengthAdjust="spacingAndGlyphs">114</text>
<text x="1069.0" y="610.7" font-size="13.8" fill="#14231a" font-family="Liberation Sans" font-weight="normal" text-anchor="start" textLength="82.6" lengthAdjust="spacing">Recuperados</text>
<rect x="548" y="612.3" width="102.0" height="30.7" fill="#ffffff"/>
<text x="552.0" y="637.0" font-size="24.0" fill="#e2562f" font-family="Liberation Sans" font-weight="normal" text-anchor="start" textLength="72.6" lengthAdjust="spacingAndGlyphs">POTOSÍ</text>
<text x="578.7" y="673.3" font-size="26.5" fill="#14231a" font-family="Liberation Sans" font-weight="normal" text-anchor="start" textLength="28.2" lengthAdjust="spacingAndGlyphs">44</text>
<text x="613.0" y="672.0" font-size="13.8" fill="#14231a" font-family="Liberation Sans" font-weight="normal" text-anchor="start" textLength="82.0" lengthAdjust="spacingAndGlyphs">Recuperados</text>
<rect x="892.5" y="635.4" width="110.1" height="30.0" fill="#ffffff"/>
<text x="898.0" y="659.5" font-size="25.0" fill="#e2562f" font-family="Liberation Sans" font-weight="normal" text-anchor="start" textLength="74.4" lengthAdjust="spacingAndGlyphs">TARIJA</text>
<text x="909.7" y="693.8" font-size="26.5" fill="#14231a" font-family="Liberation Sans" font-weight="normal" text-anchor="start" textLength="27.3" lengthAdjust="spacingAndGlyphs">67</text>
<text x="944.0" y="693.8" font-size="13.8" fill="#14231a" font-family="Liberation Sans" font-weight="normal" text-anchor="start" textLength="81.6" lengthAdjust="spacingAndGlyphs">Recuperados</text>
<rect x="12" y="151" width="183.7" height="116" rx="11" fill="#eb3c3c"/>
<path d="M13.6 214.5H194.2V256a9.5 9.5 0 0 1-9.5 9.5H23.1a9.5 9.5 0 0 1-9.5-9.5Z" fill="#ffffff"/>
<text x="73.3" y="180.0" font-size="20.7" fill="#ffffff" font-family="Liberation Sans" font-weight="normal" text-anchor="start" textLength="56.7" lengthAdjust="spacingAndGlyphs">TOTAL</text>
<text x="72.2" y="205.0" font-size="20.7" fill="#ffffff" font-family="Liberation Sans" font-weight="normal" text-anchor="start" textLength="62.3" lengthAdjust="spacingAndGlyphs">CASOS</text>
<text x="53.6" y="248.0" font-size="27.5" fill="#14231a" font-family="Liberation Sans" font-weight="normal" text-anchor="start" textLength="101.2" lengthAdjust="spacing">460.818</text>
<rect x="217" y="151" width="183.6" height="90.3" rx="11" fill="#2c3a96"/>
<path d="M219.7 188.2H398V229a9.5 9.5 0 0 1-9.5 9.5H229.2a9.5 9.5 0 0 1-9.5-9.5Z" fill="#ffffff"/>
<text x="240.0" y="179.0" font-size="20.0" fill="#ffffff" font-family="Liberation Sans" font-weight="normal" text-anchor="start" textLength="137.0" lengthAdjust="spacingAndGlyphs">DESCARTADOS</text>
<text x="250.7" y="221.0" font-size="28.0" fill="#14231a" font-family="Liberation Sans" font-weight="normal" text-anchor="start" textLength="119.8" lengthAdjust="spacingAndGlyphs">1.521.819</text>
<path d="M218 250H399.8V278.7a9 9 0 0 1-9 9H227a9 9 0 0 1-9-9Z" fill="#2c3a96"/>
<text x="233.2" y="279.0" font-size="24.7" fill="#ffffff" font-family="Liberation Sans" font-weight="normal" text-anchor="start" textLength="51.0" lengthAdjust="spacingAndGlyphs">HOY</text>
<text x="291.8" y="279.0" font-size="24.7" fill="#ffffff" font-family="Liberation Sans" font-weight="normal" text-anchor="start" textLength="12.7" lengthAdjust="spacingAndGlyphs">+</text>
<text x="312.6" y="279.0" font-size="24.7" fill="#ffffff" font-family="Liberation Sans" font-weight="normal" text-anchor="start" textLength="64.4" lengthAdjust="spacing">8.828</text>
<circle cx="403.7" cy="152.8" r="20.8" fill="#ffffff"/><circle cx="403.7" cy="152.8" r="18.4" fill="#00a651"/>
<path d="M394 143.1L413.4 162.5M413.4 143.1L394 162.5" stroke="#ffffff" stroke-width="4" stroke-linecap="round"/>
<rect x="71.3" y="311.2" width="263" height="144" rx="13" fill="#2ba59b"/>
<path d="M73.2 393.6H332.2V441a11.5 11.5 0 0 1-11.5 11.5H84.7a11.5 11.5 0 0 1-11.5-11.5Z" fill="#ffffff"/>
<text x="159.5" y="349.0" font-size="28.6" fill="#ffffff" font-family="Liberation Sans" font-weight="normal" text-anchor="start" textLength="80.2" lengthAdjust="spacingAndGlyphs">TOTAL</text>
<text x="99.8" y="381.0" font-size="28.6" fill="#ffffff" font-family="Liberation Sans" font-weight="normal" text-anchor="start" textLength="195.7" lengthAdjust="spacingAndGlyphs">RECUPERADOS</text>
<text x="131.0" y="437.4" font-size="40.0" fill="#14231a" font-family="Liberation Sans" font-weight="normal" text-anchor="start" textLength="144.0" lengthAdjust="spacingAndGlyphs">387.979</text>
<circle cx="331" cy="332.4" r="29" fill="#bbbcbe" stroke="#f3da45" stroke-width="4"/>
<circle cx="331" cy="332.4" r="19.6" fill="#ffffff"/><circle cx="331" cy="332.4" r="17.4" fill="#2e9e4f"/>
<path d="M331 319.800V345M318.400 332.400H343.600" stroke="#ffffff" stroke-width="3.600" stroke-linecap="round"/>
<rect x="21.8" y="491" width="182.9" height="89" rx="11" fill="#a7a9ac"/>
<path d="M23.6 527.3H202.7V567.7a9.5 9.5 0 0 1-9.5 9.5H33.1a9.5 9.5 0 0 1-9.5-9.5Z" fill="#ffffff"/>
<text x="38.2" y="518.8" font-size="21.0" fill="#ffffff" font-family="Liberation Sans" font-weight="normal" text-anchor="start" textLength="54.5" lengthAdjust="spacingAndGlyphs">TOTAL</text>
<text x="102.1" y="518.8" font-size="21.0" fill="#ffffff" font-family="Liberation Sans" font-weight="normal" text-anchor="start" textLength="85.4" lengthAdjust="spacingAndGlyphs">DECESOS</text>
<text x="71.4" y="564.4" font-size="28.0" fill="#14231a" font-family="Liberation Sans" font-weight="normal" text-anchor="start" textLength="83.6" lengthAdjust="spacingAndGlyphs">17.406</text>
<path d="M23 585.7H200.5V614.4a9 9 0 0 1-9 9H32a9 9 0 0 1-9-9Z" fill="#a7a9ac"/>
<text x="57.9" y="616.5" font-size="25.0" fill="#222222" font-family="Liberation Sans" font-weight="normal" text-anchor="start" textLength="46.5" lengthAdjust="spacingAndGlyphs">HOY</text>
<text x="114.5" y="616.5" font-size="25.0" fill="#222222" font-family="Liberation Sans" font-weight="normal" text-anchor="start" textLength="14.6" lengthAdjust="spacingAndGlyphs">+</text>
<text x="138.1" y="616.5" font-size="25.0" fill="#222222" font-family="Liberation Sans" font-weight="normal" text-anchor="start" textLength="23.1" lengthAdjust="spacingAndGlyphs">31</text>
<rect x="235.7" y="489.6" width="183.3" height="88.3" rx="11" fill="#0b6aa2"/>
<path d="M237.7 525.6H417.5V566.8a9.5 9.5 0 0 1-9.5 9.5H247.2a9.5 9.5 0 0 1-9.5-9.5Z" fill="#ffffff"/>
<text x="287.3" y="516.6" font-size="20.0" fill="#ffffff" font-family="Liberation Sans" font-weight="normal" text-anchor="start" textLength="80.2" lengthAdjust="spacingAndGlyphs">ACTIVOS</text>
<text x="286.0" y="561.0" font-size="27.6" fill="#14231a" font-family="Liberation Sans" font-weight="normal" text-anchor="start" textLength="83.7" lengthAdjust="spacingAndGlyphs">55.433</text>
<rect x="59" y="655.5" width="309.5" height="173.5" rx="17" fill="#0b6b3a"/>
<path d="M62.5 716H365.4V812.6a13 13 0 0 1-13 13H75.5a13 13 0 0 1-13-13Z" fill="#ffffff"/>
<text x="138.4" y="696.2" font-size="21.0" fill="#ffffff" font-family="Liberation Sans" font-weight="normal" text-anchor="start" textLength="45.0" lengthAdjust="spacingAndGlyphs">TASA</text>
<text x="191.9" y="696.2" font-size="21.0" fill="#ffffff" font-family="Liberation Sans" font-weight="normal" text-anchor="start" textLength="28.1" lengthAdjust="spacingAndGlyphs">DE</text>
<text x="225.6" y="696.2" font-size="21.0" fill="#ffffff" font-family="Liberation Sans" font-weight="normal" text-anchor="start" textLength="76.5" lengthAdjust="spacingAndGlyphs">letalidad</text>
<text x="144.0" y="744.0" font-size="24.5" fill="#222222" font-family="Liberation Sans" font-weight="normal" text-anchor="start" textLength="33.0" lengthAdjust="spacingAndGlyphs">1ra.</text>
<text x="183.4" y="744.0" font-size="24.5" fill="#222222" font-family="Liberation Sans" font-weight="normal" text-anchor="start" textLength="39.4" lengthAdjust="spacingAndGlyphs">OLA</text>
<text x="228.4" y="744.0" font-size="24.5" fill="#222222" font-family="Liberation Sans" font-weight="normal" text-anchor="start" textLength="45.6" lengthAdjust="spacingAndGlyphs">6,2%</text>
<text x="142.6" y="777.0" font-size="24.5" fill="#222222" font-family="Liberation Sans" font-weight="normal" text-anchor="start" textLength="38.9" lengthAdjust="spacingAndGlyphs">2da.</text>
<text x="188.2" y="777.0" font-size="24.5" fill="#222222" font-family="Liberation Sans" font-weight="normal" text-anchor="start" textLength="39.7" lengthAdjust="spacingAndGlyphs">OLA</text>
<text x="234.0" y="777.0" font-size="24.5" fill="#222222" font-family="Liberation Sans" font-weight="normal" text-anchor="start" textLength="45.9" lengthAdjust="spacingAndGlyphs">2,6%</text>
<text x="143.5" y="810.0" font-size="24.5" fill="#222222" font-family="Liberation Sans" font-weight="normal" text-anchor="start" textLength="33.5" lengthAdjust="spacingAndGlyphs">3ra.</text>
<text x="183.4" y="810.0" font-size="24.5" fill="#222222" font-family="Liberation Sans" font-weight="normal" text-anchor="start" textLength="39.4" lengthAdjust="spacingAndGlyphs">OLA</text>
<text x="228.4" y="810.0" font-size="24.5" fill="#222222" font-family="Liberation Sans" font-weight="normal" text-anchor="start" textLength="45.6" lengthAdjust="spacingAndGlyphs">2,7%</text>
<circle cx="1261" cy="967" r="229" fill="#eff0ef"/>
<path d="M438 705H823a8 8 0 0 1 8 8V727.5a8 8 0 0 1-8 8H438a8 8 0 0 1-8-8V713a8 8 0 0 1 8-8Z" fill="#e8413f"/>
<text x="447.0" y="728.2" font-size="20.0" fill="#ffffff" font-family="Liberation Sans" font-weight="normal" text-anchor="start" textLength="61.8" lengthAdjust="spacingAndGlyphs">CASOS</text>
<text x="516.2" y="728.2" font-size="20.0" fill="#ffffff" font-family="Liberation Sans" font-weight="normal" text-anchor="start" textLength="76.3" lengthAdjust="spacingAndGlyphs">NUEVOS</text>
<text x="600.0" y="728.2" font-size="20.0" fill="#ffffff" font-family="Liberation Sans" font-weight="normal" text-anchor="start" textLength="31.2" lengthAdjust="spacing">por</text>
<text x="637.5" y="728.2" font-size="20.0" fill="#ffffff" font-family="Liberation Sans" font-weight="normal" text-anchor="start" textLength="133.0" lengthAdjust="spacing">departamento</text>
<path d="M442 771.4H1134M442 809.4H1093" stroke="#d9dadb" stroke-width="1.2"/>
<text x="468.8" y="762.0" font-size="22.2" fill="#e2562f" font-family="Liberation Sans" font-weight="normal" text-anchor="start" textLength="23.7" lengthAdjust="spacingAndGlyphs">LA</text>
<text x="500.0" y="762.0" font-size="22.2" fill="#e2562f" font-family="Liberation Sans" font-weight="normal" text-anchor="start" textLength="38.0" lengthAdjust="spacingAndGlyphs">PAZ</text>
<text x="573.7" y="762.0" font-size="24.3" fill="#14231a" font-family="Liberation Sans" font-weight="normal" text-anchor="start" textLength="39.3" lengthAdjust="spacingAndGlyphs">224</text>
<text x="463.7" y="798.7" font-size="22.2" fill="#e2562f" font-family="Liberation Sans" font-weight="normal" text-anchor="start" textLength="74.3" lengthAdjust="spacingAndGlyphs">ORURO</text>
<text x="573.7" y="798.7" font-size="24.3" fill="#14231a" font-family="Liberation Sans" font-weight="normal" text-anchor="start" textLength="25.5" lengthAdjust="spacingAndGlyphs">33</text>
<text x="464.2" y="833.2" font-size="22.2" fill="#e2562f" font-family="Liberation Sans" font-weight="normal" text-anchor="start" textLength="72.5" lengthAdjust="spacingAndGlyphs">POTOSÍ</text>
<text x="574.2" y="833.2" font-size="24.3" fill="#14231a" font-family="Liberation Sans" font-weight="normal" text-anchor="start" textLength="24.0" lengthAdjust="spacingAndGlyphs">77</text>
<text x="651.2" y="762.0" font-size="22.2" fill="#e2562f" font-family="Liberation Sans" font-weight="normal" text-anchor="start" textLength="148.8" lengthAdjust="spacingAndGlyphs">COCHABAMBA</text>
<text x="849.5" y="762.0" font-size="24.3" fill="#14231a" font-family="Liberation Sans" font-weight="normal" text-anchor="start" textLength="39.7" lengthAdjust="spacingAndGlyphs">276</text>
<text x="651.2" y="798.7" font-size="22.2" fill="#e2562f" font-family="Liberation Sans" font-weight="normal" text-anchor="start" textLength="134.3" lengthAdjust="spacingAndGlyphs">CHUQUISACA</text>
<text x="832.5" y="798.7" font-size="24.3" fill="#14231a" font-family="Liberation Sans" font-weight="normal" text-anchor="start" textLength="37.5" lengthAdjust="spacingAndGlyphs">117</text>
<text x="652.0" y="833.2" font-size="22.2" fill="#e2562f" font-family="Liberation Sans" font-weight="normal" text-anchor="start" textLength="65.0" lengthAdjust="spacingAndGlyphs">TARIJA</text>
<text x="762.5" y="833.2" font-size="24.3" fill="#14231a" font-family="Liberation Sans" font-weight="normal" text-anchor="start" textLength="37.5" lengthAdjust="spacingAndGlyphs">114</text>
<text x="914.3" y="762.0" font-size="22.2" fill="#e2562f" font-family="Liberation Sans" font-weight="normal" text-anchor="start" textLength="65.9" lengthAdjust="spacingAndGlyphs">SANTA</text>
<text x="987.0" y="762.0" font-size="22.2" fill="#e2562f" font-family="Liberation Sans" font-weight="normal" text-anchor="start" textLength="55.5" lengthAdjust="spacingAndGlyphs">CRUZ</text>
<text x="1070.7" y="762.0" font-size="24.3" fill="#14231a" font-family="Liberation Sans" font-weight="normal" text-anchor="start" textLength="40.1" lengthAdjust="spacingAndGlyphs">378</text>
<text x="914.3" y="798.7" font-size="22.2" fill="#e2562f" font-family="Liberation Sans" font-weight="normal" text-anchor="start" textLength="73.3" lengthAdjust="spacingAndGlyphs">PANDO</text>
<text x="1021.0" y="798.7" font-size="24.3" fill="#14231a" font-family="Liberation Sans" font-weight="normal" text-anchor="start" textLength="12.6" lengthAdjust="spacingAndGlyphs">2</text>
<text x="914.3" y="833.2" font-size="22.2" fill="#e2562f" font-family="Liberation Sans" font-weight="normal" text-anchor="start" textLength="44.5" lengthAdjust="spacingAndGlyphs">BENI</text>
<text x="995.6" y="833.2" font-size="24.3" fill="#14231a" font-family="Liberation Sans" font-weight="normal" text-anchor="start" textLength="24.6" lengthAdjust="spacingAndGlyphs">18</text>
<g id="virus1">
<line x1="175.3" y1="138.3" x2="173.4" y2="131.2" stroke="#8ecb7a" stroke-width="1.6" opacity="0.9"/>
<line x1="171.6" y1="131.7" x2="175.2" y2="130.7" stroke="#8ecb7a" stroke-width="2.2" stroke-linecap="round" opacity="0.9"/>
<line x1="183.3" y1="138.7" x2="185.8" y2="131.9" stroke="#8ecb7a" stroke-width="1.6" opacity="0.9"/>
<line x1="184.0" y1="131.2" x2="187.6" y2="132.6" stroke="#8ecb7a" stroke-width="2.2" stroke-linecap="round" opacity="0.9"/>
<line x1="189.9" y1="143.8" x2="195.4" y2="140.1" stroke="#8ecb7a" stroke-width="1.6" opacity="0.9"/>
<line x1="194.3" y1="138.5" x2="196.5" y2="141.7" stroke="#8ecb7a" stroke-width="2.2" stroke-linecap="round" opacity="0.9"/>
<line x1="192.2" y1="151.4" x2="198.9" y2="151.4" stroke="#8ecb7a" stroke-width="1.6" opacity="0.9"/>
<line x1="198.9" y1="149.5" x2="198.9" y2="153.3" stroke="#8ecb7a" stroke-width="2.2" stroke-linecap="round" opacity="0.9"/>
<line x1="189.4" y1="159.6" x2="195.0" y2="163.8" stroke="#efc9a0" stroke-width="1.6" opacity="0.9"/>
<line x1="196.2" y1="162.3" x2="193.8" y2="165.3" stroke="#efc9a0" stroke-width="2.2" stroke-linecap="round" opacity="0.9"/>
<line x1="183.1" y1="164.2" x2="185.5" y2="171.3" stroke="#efc9a0" stroke-width="1.6" opacity="0.9"/>
<line x1="187.3" y1="170.7" x2="183.7" y2="171.9" stroke="#efc9a0" stroke-width="2.2" stroke-linecap="round" opacity="0.9"/>
<line x1="175.0" y1="164.4" x2="173.0" y2="171.6" stroke="#efc9a0" stroke-width="1.6" opacity="0.9"/>
<line x1="174.8" y1="172.1" x2="171.2" y2="171.1" stroke="#efc9a0" stroke-width="2.2" stroke-linecap="round" opacity="0.9"/>
<line x1="168.3" y1="160.0" x2="162.4" y2="164.9" stroke="#efc9a0" stroke-width="1.6" opacity="0.9"/>
<line x1="163.6" y1="166.4" x2="161.2" y2="163.4" stroke="#efc9a0" stroke-width="2.2" stroke-linecap="round" opacity="0.9"/>
<line x1="165.2" y1="152.6" x2="157.8" y2="153.2" stroke="#efc9a0" stroke-width="1.6" opacity="0.9"/>
<line x1="158.0" y1="155.1" x2="157.6" y2="151.3" stroke="#efc9a0" stroke-width="2.2" stroke-linecap="round" opacity="0.9"/>
<line x1="167.5" y1="143.9" x2="161.3" y2="139.7" stroke="#8ecb7a" stroke-width="1.6" opacity="0.9"/>
<line x1="160.2" y1="141.3" x2="162.4" y2="138.1" stroke="#8ecb7a" stroke-width="2.2" stroke-linecap="round" opacity="0.9"/>
<circle cx="178.7" cy="151.4" r="14.5" fill="#5f9f52"/>
<circle cx="179.29999999999998" cy="151.0" r="13.1" fill="#6db05e"/>
<path d="M170.5 142.3A12.3 12.3 0 0 1 189.6 157.2A18 18 0 0 0 170.5 142.3Z" fill="#a5d48a"/>
<path d="M176.7 140.3A11.3 11.3 0 0 1 190.0 152.4A15 15 0 0 0 176.7 140.3Z" fill="#c3e6a6" opacity="0.75"/>
<circle cx="174.2" cy="155.6" r="3.9" fill="#4f9447"/>
<path d="M170.5 158.500c1.500 4 6 6.500 11 5.500c-4 3-10 1-11-5.500z" fill="#55984b"/>
<circle cx="171.6" cy="147.5" r="1.1" fill="#4c8f44"/><circle cx="183.7" cy="157.5" r="1.4" fill="#4c8f44"/>
<circle cx="171.3" cy="140.3" r="0.7" fill="#c5eab0"/><circle cx="178.4" cy="146.5" r="0.7" fill="#c5eab0"/><circle cx="190" cy="156.8" r="0.9" fill="#c5eab0"/>
</g>
<g id="virus2">
<line x1="245.9" y1="561.6" x2="247.7" y2="555.1" stroke="#9a3fa6" stroke-width="2.3"/>
<line x1="245.9" y1="554.6" x2="249.5" y2="555.5" stroke="#9a3fa6" stroke-width="3.4" stroke-linecap="round"/>
<line x1="254.1" y1="566.4" x2="258.9" y2="561.6" stroke="#9a3fa6" stroke-width="2.3"/>
<line x1="257.6" y1="560.2" x2="260.3" y2="562.9" stroke="#9a3fa6" stroke-width="3.4" stroke-linecap="round"/>
<line x1="258.9" y1="574.6" x2="265.4" y2="572.8" stroke="#9a3fa6" stroke-width="2.3"/>
<line x1="265.0" y1="571.0" x2="265.9" y2="574.6" stroke="#9a3fa6" stroke-width="3.4" stroke-linecap="round"/>
<line x1="258.9" y1="584.0" x2="265.4" y2="585.8" stroke="#9a3fa6" stroke-width="2.3"/>
<line x1="265.9" y1="584.0" x2="265.0" y2="587.6" stroke="#9a3fa6" stroke-width="3.4" stroke-linecap="round"/>
<line x1="254.1" y1="592.2" x2="258.9" y2="597.0" stroke="#9a3fa6" stroke-width="2.3"/>
<line x1="260.3" y1="595.7" x2="257.6" y2="598.4" stroke="#9a3fa6" stroke-width="3.4" stroke-linecap="round"/>
<line x1="245.9" y1="597.0" x2="247.7" y2="603.5" stroke="#9a3fa6" stroke-width="2.3"/>
<line x1="249.5" y1="603.1" x2="245.9" y2="604.0" stroke="#9a3fa6" stroke-width="3.4" stroke-linecap="round"/>
<line x1="236.5" y1="597.0" x2="234.7" y2="603.5" stroke="#9a3fa6" stroke-width="2.3"/>
<line x1="236.5" y1="604.0" x2="232.9" y2="603.1" stroke="#9a3fa6" stroke-width="3.4" stroke-linecap="round"/>
<line x1="228.3" y1="592.2" x2="223.5" y2="597.0" stroke="#9a3fa6" stroke-width="2.3"/>
<line x1="224.8" y1="598.4" x2="222.1" y2="595.7" stroke="#9a3fa6" stroke-width="3.4" stroke-linecap="round"/>
<line x1="223.5" y1="584.0" x2="217.0" y2="585.8" stroke="#9a3fa6" stroke-width="2.3"/>
<line x1="217.4" y1="587.6" x2="216.5" y2="584.0" stroke="#9a3fa6" stroke-width="3.4" stroke-linecap="round"/>
<line x1="223.5" y1="574.6" x2="217.0" y2="572.8" stroke="#9a3fa6" stroke-width="2.3"/>
<line x1="216.5" y1="574.6" x2="217.4" y2="571.0" stroke="#9a3fa6" stroke-width="3.4" stroke-linecap="round"/>
<line x1="228.3" y1="566.4" x2="223.5" y2="561.6" stroke="#9a3fa6" stroke-width="2.3"/>
<line x1="222.1" y1="562.9" x2="224.8" y2="560.2" stroke="#9a3fa6" stroke-width="3.4" stroke-linecap="round"/>
<line x1="236.5" y1="561.6" x2="234.7" y2="555.1" stroke="#9a3fa6" stroke-width="2.3"/>
<line x1="232.9" y1="555.5" x2="236.5" y2="554.6" stroke="#9a3fa6" stroke-width="3.4" stroke-linecap="round"/>
<circle cx="241.2" cy="579.3" r="19.3" fill="#5cbf6a"/>
<path d="M241.2 560.0A19.3 19.3 0 0 0 241.2 598.5999999999999Z" fill="#b9db6e"/>
<circle cx="232.7" cy="571.3" r="1.5" fill="#22a58c"/>
<circle cx="237.7" cy="576.3" r="1.5" fill="#22a58c"/>
<circle cx="229.2" cy="579.8" r="1.5" fill="#22a58c"/>
<circle cx="237.7" cy="582.8" r="1.5" fill="#22a58c"/>
<circle cx="232.7" cy="587.3" r="1.5" fill="#22a58c"/>
<circle cx="241.2" cy="567.8" r="1.5" fill="#22a58c"/>
<circle cx="241.7" cy="590.8" r="1.5" fill="#22a58c"/>
<circle cx="244.7" cy="575.8" r="1.5" fill="#22a58c"/>
<circle cx="249.2" cy="571.3" r="1.5" fill="#22a58c"/>
<circle cx="245.2" cy="583.3" r="1.5" fill="#22a58c"/>
<circle cx="252.7" cy="579.3" r="1.5" fill="#22a58c"/>
<circle cx="249.2" cy="587.8" r="1.5" fill="#22a58c"/>
<circle cx="244.2" cy="578.8" r="1.5" fill="#22a58c"/>
</g>
<g id="ribbon" fill="none" stroke-linejoin="round"><path d="M196.2 511L211.6 491.8C214.500 488.200 217.800 485.500 218 482.500C218.200 479.200 215 477.600 210.800 477.600C206.500 477.600 203.300 479.200 203.500 482.500C203.700 485.500 207 488.200 210 491.800L226 510.200" stroke="#ffffff" stroke-width="9.2"/><path d="M196.2 511L211.6 491.8C214.500 488.200 217.800 485.500 218 482.500C218.200 479.200 215 477.600 210.800 477.600C206.500 477.600 203.300 479.200 203.500 482.500C203.700 485.500 207 488.200 210 491.800L226 510.200" stroke="#0d0d0d" stroke-width="7"/></g>
<g id="unidos" fill="none" stroke-linecap="round" stroke-linejoin="round">
<g stroke="#e08a2c" stroke-width="3.2">
<path d="M1125 779L1121.300 807.500"/><path d="M1133 777.800L1127.600 809.500"/><path d="M1122.500 788.500L1142.500 778"/><path d="M1118 798.600L1141 790"/>
</g>
<path d="M1153.700 779.600C1148 790 1137 804 1133 813C1131 818.500 1135 821.500 1139.500 817C1148 808 1160 790 1168.500 777.200C1163 788 1151.500 803 1148.800 811.500C1147.500 816.500 1150 819 1153 815.500" stroke="#c4167f" stroke-width="5.400"/>
<path d="M1160.500 796.500C1159 801 1157 806 1156.200 811C1159 804.500 1165 797 1169.500 795.500C1173 794.500 1173.500 797.500 1172 801C1170.500 804.500 1168 808.500 1169.500 810.500C1171 812 1173.500 810 1175.500 807" stroke="#4a69b6" stroke-width="4.400"/>
<path d="M1186.200 794C1184 799 1180 805 1180.500 808.500C1181 811 1184 810 1186.500 807" stroke="#c9392e" stroke-width="4.400"/>
<path d="M1195.800 778.500L1191.800 785.800" stroke="#c9392e" stroke-width="4.600"/>
<path d="M1202.500 797C1198.500 794 1192 797 1189.500 803C1188 807.500 1190 811.500 1194 810.500C1199 809 1204 800 1208 792C1211.500 785.500 1215.500 778.500 1218.600 775.200C1214.500 784 1207.500 798 1205.500 805.500C1204.500 809.500 1207.500 810.500 1212.500 806" stroke="#52a08f" stroke-width="4.800"/>
<g stroke="#2a98de" stroke-width="1.700">
<path d="M1223.800 791.200C1227 788.500 1231.500 786.600 1235 786.200C1239.500 788 1242.500 791 1242.600 793.800C1243 797.500 1242.500 800.500 1241.200 802.600C1238 805 1235 806 1232.500 806.200C1229.500 805.800 1226.500 804.500 1225 802.500C1223.500 799 1223 795 1223.800 791.200Z" fill="#f2f9fd"/>
<path d="M1230.500 795L1236.500 794.600M1230.500 798.200L1236.500 797.800M1230.500 801.300L1236.500 800.900"/>
<path d="M1223.800 791.200C1220.500 789.200 1217 788.600 1216.200 790.500C1215.500 793.500 1219 798 1225 802.500"/>
<path d="M1235 786.200C1236 784 1239 783.200 1241 784.600C1243 786.500 1243.200 790 1242.600 793.800"/>
</g>
<path d="M1263 780.600C1258.500 784 1253.500 791 1251.200 797.500" stroke="#c11c25" stroke-width="5"/>
<ellipse cx="1250" cy="800.200" rx="5" ry="4" fill="#c11c25" transform="rotate(-35 1250 800.200)"/>
<circle cx="1249.600" cy="800.600" r="1.100" fill="#eff0ef"/>
</g>
<text x="1154.500" y="828" font-family="Liberation Serif" font-style="italic" font-weight="normal" font-size="16.500" fill="#3a4652" stroke="#3a4652" stroke-width="0.300" textLength="96" lengthAdjust="spacingAndGlyphs" transform="rotate(-4.500 1154.500 828)">ContraElCovid</text>

</svg>
</body></html>
